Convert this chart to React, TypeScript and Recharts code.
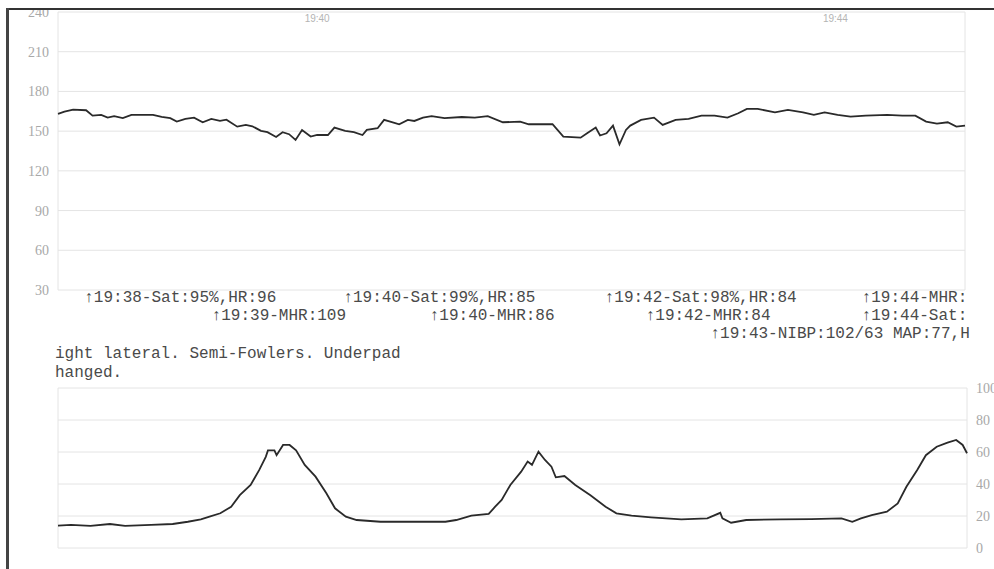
import { LineChart, Line, XAxis, YAxis, CartesianGrid, ReferenceDot } from 'recharts'

// seconds after 19:38:00
const fhrTime = [
  0, 3, 7, 13, 16, 20, 23, 26, 30, 34, 44, 48, 52, 55, 59, 63, 67, 71, 75, 78,
  83, 87, 90, 94, 97, 101, 104, 107, 110, 113, 117, 120, 125, 128, 133, 137, 141, 143, 148, 151,
  155, 158, 162, 165, 169, 173, 179, 187, 193, 199, 206, 214, 218, 229, 234, 242, 245, 249, 251, 254,
  257, 260, 263, 265, 270, 276, 280, 286, 292, 298, 304, 310, 315, 319, 324, 332, 338, 345, 350, 355,
  361, 367, 374, 384, 391, 397, 402, 407, 412, 416, 420,
]
const fhrValue = [
  163, 164.7, 166.3, 165.8, 161.7, 162.3, 160.2, 161.3, 159.8, 162.3, 162.3, 160.7, 159.8, 157.2, 159.2, 160.2, 156.7, 159.2, 157.7, 158.7,
  153.4, 154.7, 153.7, 150.2, 149.2, 145.6, 149.2, 147.7, 143.4, 150.9, 145.9, 147.1, 147.1, 152.7, 150.2, 149.2, 147.1, 150.9, 152.2, 158.5,
  156.7, 155.2, 158.5, 157.7, 160.2, 161.3, 159.8, 160.7, 160.2, 161.3, 156.7, 157.2, 155.2, 155.2, 145.9, 145.1, 148.4, 152.7, 146.7, 148.4,
  154.2, 140.1, 150.9, 154.2, 158.5, 160.2, 154.7, 158.5, 159.2, 161.7, 161.7, 160.2, 163.5, 166.8, 166.8, 164.2, 166, 164.2, 162.3, 164.2,
  162.3, 161, 161.7, 162.3, 161.7, 161.7, 157.2, 155.7, 156.7, 153.4, 154.2,
]

const tocoTime = [
  0, 6, 15, 24, 31, 43, 53, 60, 66, 70, 75, 80, 84, 89, 93, 96, 97, 100, 101, 104,
  107, 110, 114, 119, 124, 128, 133, 138, 149, 168, 179, 184, 191, 199, 202, 205, 209, 214, 217, 219,
  222, 225, 228, 230, 234, 239, 246, 253, 258, 265, 274, 288, 300, 306, 307, 311, 318, 334, 348, 362,
  367, 371, 376, 383, 388, 392, 397, 401, 406, 411, 415, 418, 420,
]
const tocoValue = [
  14, 14.4, 13.8, 15, 13.8, 14.4, 15, 16.4, 17.9, 19.6, 21.7, 25.8, 33, 39.4, 48.8, 57, 61, 61, 58, 64.4,
  64.4, 61, 51.9, 44.6, 34.2, 24.8, 19.6, 17.5, 16.4, 16.4, 16.4, 17.5, 20.2, 21.3, 25.8, 30, 39.4, 47.7, 54, 52,
  60.2, 55, 50.8, 44.2, 45, 39.4, 33, 25.8, 21.7, 20.2, 19.2, 17.9, 18.5, 22, 18.5, 15.8, 17.5, 17.9, 18.1, 18.5,
  16.4, 18.5, 20.6, 22.7, 27.9, 38.3, 48.8, 58, 63.3, 65.8, 67.5, 64.4, 59.2,
]

const minuteTicks = [0, 60, 120, 180, 240, 300, 360, 420]
const labelledMinutes = [120, 360]
const fhrTicks = [30, 60, 90, 120, 150, 180, 210, 240]
const tocoTicks = [0, 20, 40, 60, 80, 100]

const eventTime = [14, 73, 134, 174, 255, 274, 304, 374, 374]
const eventRow = [0, 1, 0, 1, 0, 1, 2, 0, 1]
const eventText = [
  '↑19:38-Sat:95%,HR:96',
  '↑19:39-MHR:109',
  '↑19:40-Sat:99%,HR:85',
  '↑19:40-MHR:86',
  '↑19:42-Sat:98%,HR:84',
  '↑19:42-MHR:84',
  '↑19:43-NIBP:102/63 MAP:77,H',
  '↑19:44-MHR:',
  '↑19:44-Sat:',
]
const notes = ['ight lateral. Semi-Fowlers. Underpad', 'hanged.']

const fhrData = fhrTime.map((t, i) => ({ t, v: fhrValue[i] }))
const tocoData = tocoTime.map((t, i) => ({ t, v: tocoValue[i] }))

const clock = (s: number) => {
  const m = 19 * 60 + 38 + Math.floor(s / 60)
  return `${Math.floor(m / 60)}:${String(m % 60).padStart(2, '0')}`
}

const axisTick = { fontSize: 14, fill: '#a8a8a8', fontFamily: '"Liberation Serif", "DejaVu Serif", serif' }
const MONO = '"Liberation Mono", "DejaVu Sans Mono", monospace'

export default function App() {
  return (
    <div style={{ position: 'absolute', left: 0, top: 0, width: 994, height: 569, overflow: 'hidden', background: '#fff' }}>
      <style>{'html, body { margin: 0; overflow: hidden; }'}</style>
      {/* FHR strip, clipped at the frame's top edge */}
      <div style={{ position: 'absolute', left: 0, top: 10, width: 970, height: 340, overflow: 'hidden' }}>
        <div style={{ marginTop: -10 }}>
          <LineChart width={994} height={350} data={fhrData} margin={{ top: 12, right: 29, bottom: 60, left: 8 }}>
            <CartesianGrid stroke="#e4e4e4" />
            <XAxis
              dataKey="t" type="number" domain={[0, 420]} ticks={minuteTicks} interval={0}
              height={0} axisLine={false} tickLine={false} tick={false}
            />
            <YAxis
              domain={[30, 240]} ticks={fhrTicks} interval={0} width={50}
              axisLine={false} tickLine={false} tickMargin={3} tick={axisTick}
            />
            <Line dataKey="v" stroke="#2a2a2a" strokeWidth={1.8} dot={false} isAnimationActive={false} />
            {labelledMinutes.map((t) => (
              <ReferenceDot
                key={`m${t}`} x={t} y={240} r={1} ifOverflow="visible"
                shape={(p: any) => (
                  <text x={p.cx} y={p.cy + 10} textAnchor="middle" fontSize={10} fill="#b4b4b4" fontFamily="Liberation Sans">
                    {clock(t)}
                  </text>
                )}
              />
            ))}
            {eventTime.map((t, i) => (
              <ReferenceDot
                key={i} x={t} y={30} r={1} ifOverflow="visible"
                shape={(p: any) => (
                  <text x={p.cx - 4} y={p.cy + 12 + eventRow[i] * 18} fontSize={16} fill="#4a4a4a" fontFamily={MONO}>
                    {eventText[i]}
                  </text>
                )}
              />
            ))}
          </LineChart>
        </div>
      </div>

      <div style={{ position: 'absolute', left: 55, top: 345, fontFamily: MONO, fontSize: 16, lineHeight: '19px', color: '#4a4a4a', whiteSpace: 'pre' }}>
        {notes.map((n, i) => <div key={i}>{n}</div>)}
      </div>

      {/* uterine activity */}
      <div style={{ position: 'absolute', left: 0, top: 378 }}>
        <LineChart width={994} height={180} data={tocoData} margin={{ top: 10, right: 0, bottom: 10, left: 58 }}>
          <CartesianGrid stroke="#e4e4e4" />
          <XAxis dataKey="t" type="number" domain={[0, 420]} ticks={minuteTicks} interval={0} height={0} axisLine={false} tickLine={false} tick={false} />
          <YAxis
            orientation="right" domain={[0, 100]} ticks={tocoTicks} interval={0} width={27}
            axisLine={false} tickLine={false} tickMargin={3} tick={axisTick}
          />
          <Line dataKey="v" stroke="#2a2a2a" strokeWidth={1.8} dot={false} isAnimationActive={false} />
        </LineChart>
      </div>

      {/* paper frame */}
      <div style={{ position: 'absolute', left: 6, top: 8, width: 988, height: 2, background: '#333', zIndex: 10 }} />
      <div style={{ position: 'absolute', left: 6, top: 8, width: 3, height: 561, background: '#444', zIndex: 10 }} />
    </div>
  )
}
